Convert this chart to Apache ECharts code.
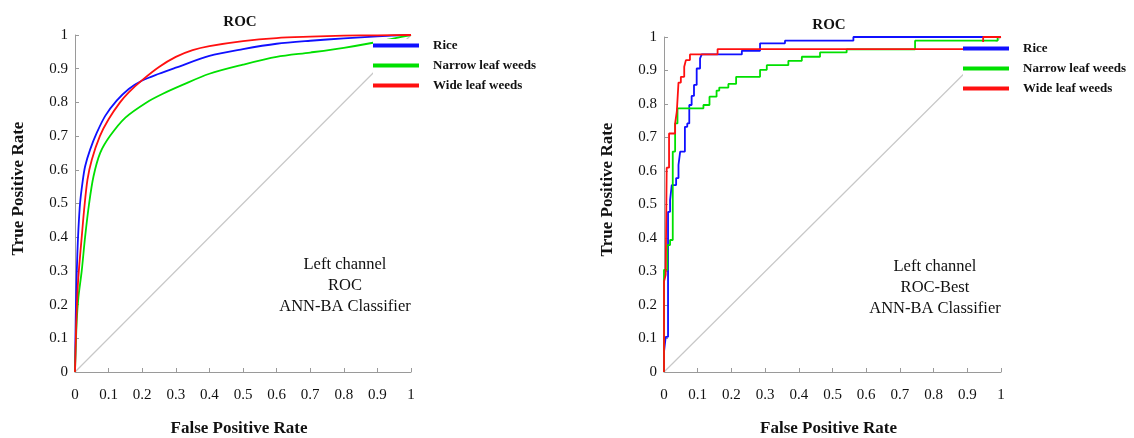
<!DOCTYPE html>
<html>
<head>
<meta charset="utf-8">
<script src="https://cdn.jsdelivr.net/npm/echarts@6/dist/echarts.min.js"></script>
<style>html,body{margin:0;padding:0;background:#fff}#c{width:1134px;height:438px}</style>
</head>
<body>
<div id="c"></div>
<script>
// ---- data ----
const seriesNames = ['Rice', 'Narrow leaf weeds', 'Wide leaf weeds'];
const chartTitles = ['ROC', 'ROC'];
const notesLeft = ['Left channel', 'ROC', 'ANN-BA Classifier'];
const notesRight = ['Left channel', 'ROC-Best', 'ANN-BA Classifier'];
const xAxisName = 'False Positive Rate';
const yAxisName = 'True Positive Rate';
const diagonal = [[0, 0], [1, 1]];

// Left panel: smooth ROC curves [FPR, TPR]
const riceLeft = [[0,0],[0.002,0.15],[0.004,0.25],[0.007,0.35],[0.01,0.42],[0.015,0.5],[0.022,0.56],[0.03,0.61],[0.045,0.66],[0.065,0.71],[0.09,0.76],[0.124,0.805],[0.16,0.84],[0.2,0.865],[0.25,0.885],[0.3,0.903],[0.4,0.938],[0.5,0.958],[0.6,0.974],[0.7,0.983],[0.8,0.99],[0.9,0.996],[1,1]];
const narrowLeft = [[0,0],[0.005,0.15],[0.01,0.22],[0.02,0.3],[0.03,0.4],[0.042,0.5],[0.055,0.58],[0.075,0.65],[0.104,0.7],[0.15,0.755],[0.213,0.8],[0.26,0.825],[0.32,0.852],[0.4,0.885],[0.5,0.912],[0.6,0.935],[0.7,0.948],[0.8,0.962],[0.887,0.977],[0.95,0.99],[1,1]];
const wideLeft = [[0,0],[0.004,0.15],[0.008,0.25],[0.013,0.32],[0.02,0.4],[0.027,0.48],[0.037,0.57],[0.05,0.63],[0.074,0.7],[0.1,0.75],[0.134,0.8],[0.16,0.83],[0.2,0.866],[0.25,0.905],[0.3,0.935],[0.35,0.955],[0.4,0.967],[0.5,0.982],[0.6,0.991],[0.7,0.995],[0.8,0.998],[0.9,0.999],[1,1]];

// Right panel: stepped ROC curves (corner points) [FPR, TPR]
const riceRight = [[0,0],[0,0.06],[0.005,0.06],[0.005,0.105],[0.012,0.105],[0.012,0.478],[0.018,0.478],[0.018,0.513],[0.023,0.513],[0.023,0.558],[0.036,0.558],[0.036,0.579],[0.043,0.579],[0.043,0.618],[0.048,0.618],[0.048,0.658],[0.062,0.658],[0.062,0.732],[0.069,0.732],[0.069,0.742],[0.075,0.742],[0.075,0.797],[0.082,0.797],[0.082,0.824],[0.089,0.824],[0.089,0.857],[0.097,0.857],[0.097,0.906],[0.107,0.906],[0.107,0.936],[0.112,0.936],[0.112,0.948],[0.231,0.948],[0.231,0.959],[0.285,0.959],[0.285,0.981],[0.359,0.981],[0.359,0.989],[0.562,0.989],[0.562,1],[1,1]];
const narrowRight = [[0,0],[0,0.305],[0.01,0.305],[0.01,0.379],[0.018,0.379],[0.018,0.394],[0.026,0.394],[0.026,0.658],[0.033,0.658],[0.033,0.742],[0.04,0.742],[0.04,0.787],[0.117,0.787],[0.117,0.797],[0.135,0.797],[0.135,0.822],[0.156,0.822],[0.156,0.84],[0.164,0.84],[0.164,0.849],[0.191,0.849],[0.191,0.86],[0.214,0.86],[0.214,0.881],[0.285,0.881],[0.285,0.902],[0.305,0.902],[0.305,0.916],[0.369,0.916],[0.369,0.929],[0.409,0.929],[0.409,0.941],[0.463,0.941],[0.463,0.954],[0.542,0.954],[0.542,0.963],[0.745,0.963],[0.745,0.989],[0.99,0.989],[0.99,1],[1,1]];
const wideRight = [[0,0],[0,0.27],[0.005,0.27],[0.005,0.29],[0.008,0.29],[0.008,0.61],[0.015,0.61],[0.015,0.712],[0.033,0.712],[0.033,0.742],[0.038,0.742],[0.038,0.777],[0.043,0.777],[0.043,0.864],[0.05,0.864],[0.05,0.881],[0.06,0.881],[0.06,0.911],[0.065,0.911],[0.065,0.931],[0.077,0.931],[0.077,0.948],[0.159,0.948],[0.159,0.964],[0.947,0.964],[0.947,1],[1,1]];

const colors = ['#1010ff', '#00e000', '#ff1010'];
const SERIF = '"Liberation Serif", "Times New Roman", serif';

const chart = echarts.init(document.getElementById('c'), null, {renderer: 'canvas'});

function xAx(gi) {
  return {
    type: 'value', gridIndex: gi, min: 0, max: 1, interval: 0.1,
    axisLine: {show: true, lineStyle: {color: '#9a9a9a', width: 1}},
    axisTick: {show: true, inside: true, length: 4, lineStyle: {color: '#9a9a9a'}},
    splitLine: {show: false},
    axisLabel: {color: '#111', fontFamily: SERIF, fontSize: 15, margin: 16},
    name: xAxisName, nameLocation: 'middle', nameGap: 48,
    nameTextStyle: {color: '#111', fontFamily: SERIF, fontWeight: 'bold', fontSize: 17, padding: [0, 8, 0, 0]}
  };
}
function yAx(gi) {
  return {
    type: 'value', gridIndex: gi, min: 0, max: 1, interval: 0.1,
    axisLine: {show: true, lineStyle: {color: '#9a9a9a', width: 1}},
    axisTick: {show: true, inside: true, length: 4, lineStyle: {color: '#9a9a9a'}},
    splitLine: {show: false},
    axisLabel: {color: '#111', fontFamily: SERIF, fontSize: 15, margin: 7},
    name: yAxisName, nameLocation: 'middle', nameGap: 48, nameRotate: 90,
    nameTextStyle: {color: '#111', fontFamily: SERIF, fontWeight: 'bold', fontSize: 17, padding: [0, 0, 0, 30]}
  };
}
function legend(left, top) {
  return {
    left: left, top: top, orient: 'vertical', data: seriesNames,
    icon: 'rect', itemWidth: 46, itemHeight: 4, itemGap: 7,
    backgroundColor: '#fff', padding: [0, 6, 6, 0], selectedMode: false,
    textStyle: {fontFamily: SERIF, fontWeight: 'bold', fontSize: 13, color: '#111', padding: [0, 0, 0, 9]}
  };
}
const leftSets = [riceLeft, narrowLeft, wideLeft];
const rightSets = [riceRight, narrowRight, wideRight];
const series = [];
[0, 1].forEach(function (gi) {
  series.push({type: 'line', xAxisIndex: gi, yAxisIndex: gi, data: diagonal, symbol: 'none', silent: true,
    lineStyle: {color: '#c8c8c8', width: 1.2}, z: 1});
});
leftSets.forEach(function (d, i) {
  series.push({name: seriesNames[i], type: 'line', xAxisIndex: 0, yAxisIndex: 0, data: d, symbol: 'none',
    smooth: 0.3, color: colors[i], lineStyle: {color: colors[i], width: 1.8}, z: 3});
});
rightSets.forEach(function (d, i) {
  series.push({name: seriesNames[i], type: 'line', xAxisIndex: 1, yAxisIndex: 1, data: d, symbol: 'none',
    color: colors[i], lineStyle: {color: colors[i], width: 1.8}, z: 3});
});

function txt(x, y, text, size, weight, lh) {
  return {type: 'text', x: x, y: y, z: 10, style: {text: text, fill: '#111', font: weight + ' ' + size + 'px ' + SERIF,
    textAlign: 'center', textVerticalAlign: 'top', lineHeight: lh || size}};
}

chart.setOption({
  animation: false,
  backgroundColor: '#fff',
  grid: [
    {left: 75, top: 35, width: 336, height: 337, containLabel: false, outerBoundsMode: 'none'},
    {left: 664, top: 37, width: 337, height: 335, containLabel: false, outerBoundsMode: 'none'}
  ],
  xAxis: [xAx(0), xAx(1)],
  yAxis: [yAx(0), yAx(1)],
  legend: [legend(373, 39), legend(963, 42)],
  graphic: [
    txt(240, 15, chartTitles[0], 15, 'bold'),
    txt(829, 18, chartTitles[1], 15, 'bold'),
    txt(345, 254, notesLeft.join('\n'), 16.5, 'normal', 21),
    txt(935, 256, notesRight.join('\n'), 16.5, 'normal', 21)
  ],
  series: series
});
</script>
</body>
</html>
